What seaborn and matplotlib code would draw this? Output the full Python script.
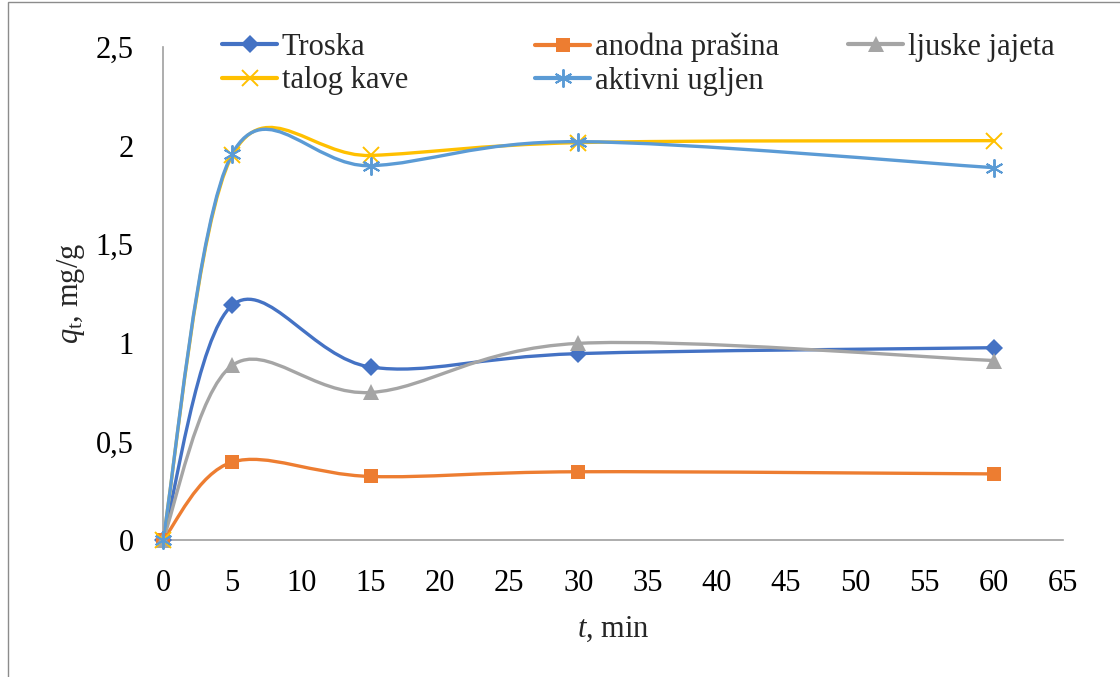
import numpy as np
import matplotlib
matplotlib.use("Agg")
import matplotlib.pyplot as plt
import seaborn as sns
from matplotlib.path import Path
from matplotlib.patches import PathPatch, Rectangle
from matplotlib.lines import Line2D
from matplotlib.ticker import FuncFormatter, MultipleLocator

# --- podaci (očitano s grafa) ---
t_min = [0, 5, 15, 30, 60]
troska = [0, 1.19, 0.877, 0.945, 0.975]
anodna_prasina = [0, 0.395, 0.322, 0.346, 0.335]
ljuske_jajeta = [0, 0.885, 0.748, 0.997, 0.910]
talog_kave = [0, 1.950, 1.950, 2.015, 2.025]
aktivni_ugljen = [0, 1.958, 1.898, 2.020, 1.888]

serije = ["Troska", "anodna prašina", "ljuske jajeta", "talog kave", "aktivni ugljen"]
vrijednosti = [troska, anodna_prasina, ljuske_jajeta, talog_kave, aktivni_ugljen]
boje = ["#4472C4", "#ED7D31", "#A5A5A5", "#FFC000", "#5B9BD5"]
markeri = ["D", "s", "^", "x", (6, 2, 0)]
velicine = [9, 10, 11, 12, 13]

sns.set_style("white")
plt.rcParams["font.family"] = ["Liberation Serif", "DejaVu Serif"]
plt.rcParams["mathtext.fontset"] = "custom"
plt.rcParams["mathtext.rm"] = "Liberation Serif"
plt.rcParams["mathtext.it"] = "Liberation Serif:italic"

FS = 22
W, H = 1120, 677


def glatka_putanja(x, y):
    # Excel-ov "smoothed line": kubni Bezier s kontrolnim tockama (Catmull-Rom, 1/6)
    p = np.column_stack([x, y]).astype(float)
    n = len(p)
    verts = [p[0]]
    codes = [Path.MOVETO]
    for i in range(n - 1):
        p_prev = p[i - 1] if i > 0 else p[i]
        p_next2 = p[i + 2] if i + 2 < n else p[i + 1]
        c1 = p[i] + (p[i + 1] - p_prev) / 6
        c2 = p[i + 1] - (p_next2 - p[i]) / 6
        verts += [c1, c2, p[i + 1]]
        codes += [Path.CURVE4] * 3
    return Path(verts, codes)


def mew(m):
    return 1.4 if m in ("x", (6, 2, 0)) else 0


fig = plt.figure(figsize=(W / 100, H / 100), dpi=100)
ax = fig.add_axes([0.1455, 0.2024, 0.8035, 0.7282])

for naziv, y, c, m, ms in zip(serije, vrijednosti, boje, markeri, velicine):
    ax.add_patch(PathPatch(glatka_putanja(t_min, y), facecolor="none",
                           edgecolor=c, lw=2.4, capstyle="round", zorder=2))
    sns.lineplot(x=t_min, y=y, ax=ax, linestyle="none", marker=m, markersize=ms,
                 color=c, markeredgecolor=c, markeredgewidth=mew(m),
                 zorder=3, clip_on=False)

ax.set_xlim(0, 65)
ax.set_ylim(0, 2.5)
ax.xaxis.set_major_locator(MultipleLocator(5))
ax.yaxis.set_major_locator(MultipleLocator(0.5))
ax.yaxis.set_major_formatter(FuncFormatter(lambda v, p: f"{v:g}".replace(".", ",")))

siva = "#A0A0A0"
for s in ["top", "right"]:
    ax.spines[s].set_visible(False)
for s in ["left", "bottom"]:
    ax.spines[s].set_color(siva)
    ax.spines[s].set_linewidth(1.2)
ax.tick_params(axis="both", direction="out", length=7, width=1.2, color=siva,
               labelsize=FS, labelcolor="black")
ax.tick_params(axis="y", pad=14)
ax.tick_params(axis="x", pad=14)

ax.set_xlabel(r"$\mathit{t}$, min", fontsize=FS, labelpad=12)
ax.set_ylabel(r"$\mathit{q}_\mathrm{t}$, mg/g", fontsize=FS, labelpad=6)

# legenda: tri stupca jednake širine kao u Excelu
rucke = [Line2D([], [], color=c, lw=3, marker=m, markersize=ms,
                markeredgecolor=c, markeredgewidth=mew(m))
         for c, m, ms in zip(boje, markeri, velicine)]
stupci = [([0, 3], 222), ([1, 4], 535), ([2], 848)]
for idx, x0 in stupci:
    fig.legend([rucke[i] for i in idx], [serije[i] for i in idx], frameon=False,
               fontsize=FS, loc="upper left", bbox_to_anchor=(x0 / W, 1 - 33 / H),
               bbox_transform=fig.transFigure,
               handlelength=1.8, handletextpad=0.16,
               labelspacing=0.14, borderpad=0, borderaxespad=0)

# okvir oko cijele slike
fig.patches.append(Rectangle((8 / W, -0.01), 1.1, 1 - 2 / H + 0.01,
                             transform=fig.transFigure, fill=False,
                             edgecolor="#8C8C8C", lw=1))

fig.savefig("out.png", dpi=100)
